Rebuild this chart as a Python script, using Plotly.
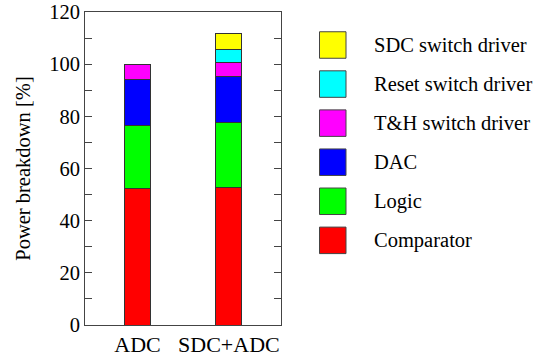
import plotly.graph_objects as go

categories = ["ADC", "SDC+ADC"]
series_names = ["Comparator", "Logic", "DAC", "T&H switch driver",
                "Reset switch driver", "SDC switch driver"]
comparator = [52.3, 52.6]
logic = [24.1, 24.9]
dac = [17.9, 17.7]
th_driver = [5.7, 5.5]
reset_driver = [0.0, 5.1]
sdc_driver = [0.0, 5.9]
series_values = [comparator, logic, dac, th_driver, reset_driver, sdc_driver]
colors = ["#FF0000", "#00FF00", "#0000FF", "#FF00FF", "#00FFFF", "#FFFF00"]

y_tick_vals = [0, 10, 20, 30, 40, 50, 60, 70, 80, 90, 100, 110, 120]
y_tick_text = ["0", "", "20", "", "40", "", "60", "", "80", "", "100", "", "120"]

FONT = "Liberation Serif, Times New Roman, serif"
FS = 20.5
W, H = 543, 358
ML, MR, MT, MB = 85, 262, 12, 33
PW, PH = W - ML - MR, H - MT - MB

fig = go.Figure()
for name, vals, col in zip(series_names, series_values, colors):
    xs = [c for c, v in zip(categories, vals) if v > 0]
    ys = [v for v in vals if v > 0]
    fig.add_trace(go.Bar(
        x=xs, y=ys, name=name, width=0.284,
        marker=dict(color=col, line=dict(color="#333333", width=1)),
        showlegend=False,
    ))

# manual legend (large squares); pixel coords converted to paper
def px_to_paper_x(px):
    return (px - ML) / PW

def px_to_paper_y(py):
    return (H - MB - py) / PH

legend_top_center = 45.0
legend_step = 39.07
sq = 26.5
for i, (name, col) in enumerate(zip(reversed(series_names), reversed(colors))):
    cy = legend_top_center + i * legend_step
    fig.add_shape(type="rect", xref="paper", yref="paper",
                  x0=px_to_paper_x(319.5), x1=px_to_paper_x(319.5 + sq),
                  y0=px_to_paper_y(cy + sq / 2), y1=px_to_paper_y(cy - sq / 2),
                  fillcolor=col, line=dict(color="#444444", width=1))
    fig.add_annotation(xref="paper", yref="paper",
                       x=px_to_paper_x(371.5), y=px_to_paper_y(cy),
                       xanchor="left", yanchor="middle", text=name,
                       showarrow=False, font=dict(family=FONT, size=FS, color="black"))

fig.update_layout(
    width=W, height=H,
    margin=dict(l=ML, r=MR, t=MT, b=MB, pad=0, autoexpand=False),
    barmode="stack",
    plot_bgcolor="white", paper_bgcolor="white",
    font=dict(family=FONT, size=FS, color="black"),
)
fig.update_xaxes(
    type="category", range=[-0.574, 1.57], automargin=False,
    showline=True, linecolor="#444444", linewidth=1, mirror=True,
    ticks="", showgrid=False, tickfont=dict(size=22),
)
fig.update_yaxes(
    range=[0, 120], tickvals=y_tick_vals, ticktext=y_tick_text, automargin=False,
    showline=True, linecolor="#444444", linewidth=1, mirror="ticks",
    ticks="inside", ticklen=7, tickcolor="#444444", showgrid=False,
    zeroline=False, tickfont=dict(size=FS), ticklabeloverflow="allow",
    title=dict(text="Power breakdown [%]", font=dict(size=FS), standoff=12),
)

fig.write_html(
    "out.html",
    config={"displayModeBar": False},
    post_script="document.body.style.margin='0';document.body.style.overflow='hidden';",
)
